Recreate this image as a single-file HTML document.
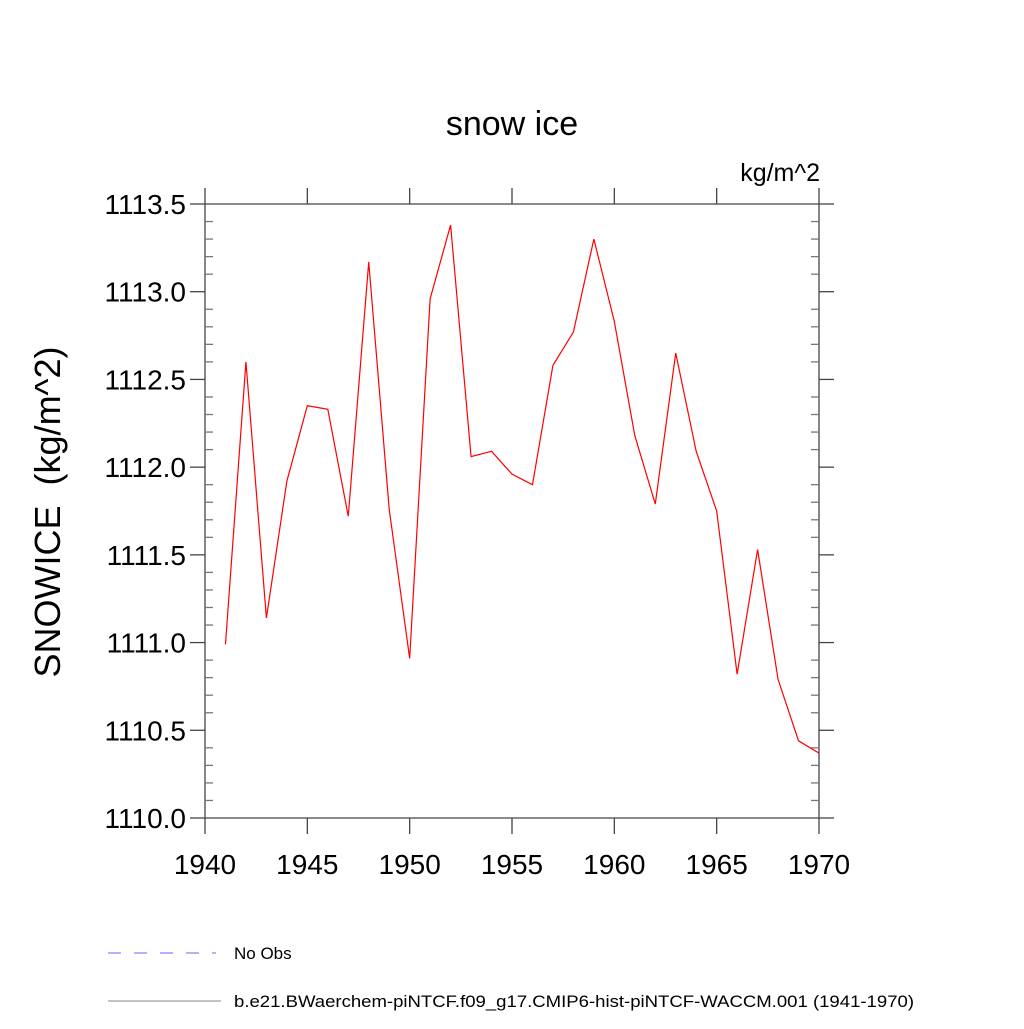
<!DOCTYPE html>
<html><head><meta charset="utf-8"><style>
body{margin:0;background:#fff}
svg text{font-family:"Liberation Sans",sans-serif;fill:#000}
</style></head><body>
<svg id="c" width="1024" height="1024" xmlns="http://www.w3.org/2000/svg">
<text x="512" y="135" font-size="34" text-anchor="middle">snow ice</text>
<text x="820" y="181" font-size="25" text-anchor="end">kg/m^2</text>
<text transform="translate(60,512) rotate(-90)" font-size="36" text-anchor="middle" xml:space="preserve" style="white-space:pre">SNOWICE  (kg/m^2)</text>
<g id="axes"></g>
<g id="series"></g>
<line x1="108" y1="953" x2="216" y2="953" stroke="#6666ff" stroke-dasharray="13,13"/>
<text x="234" y="959" font-size="17">No Obs</text>
<line x1="108" y1="1001" x2="221" y2="1001" stroke="#888"/>
<text x="234" y="1007" font-size="17" textLength="680" lengthAdjust="spacingAndGlyphs">b.e21.BWaerchem-piNTCF.f09_g17.CMIP6-hist-piNTCF-WACCM.001 (1941-1970)</text>
</svg>
<script>
const years=[1941,1942,1943,1944,1945,1946,1947,1948,1949,1950,1951,1952,1953,1954,1955,1956,1957,1958,1959,1960,1961,1962,1963,1964,1965,1966,1967,1968,1969,1970];
const values=[1110.99,1112.60,1111.14,1111.92,1112.35,1112.33,1111.72,1113.17,1111.76,1110.91,1112.96,1113.38,1112.06,1112.09,1111.96,1111.90,1112.58,1112.77,1113.30,1112.83,1112.18,1111.79,1112.65,1112.09,1111.75,1110.82,1111.53,1110.79,1110.44,1110.37];
const xTicks=[1940,1945,1950,1955,1960,1965,1970];
const yTicks=[1110.0,1110.5,1111.0,1111.5,1112.0,1112.5,1113.0,1113.5];
const L=205,R=819,T=204,B=818,X0=1940,X1=1970,Y0=1110,Y1=1113.5;
const xs=v=>L+(v-X0)/(X1-X0)*(R-L);
const ys=v=>B-(v-Y0)/(Y1-Y0)*(B-T);
const NS="http://www.w3.org/2000/svg";
const ax=document.getElementById('axes');
function ln(x1,y1,x2,y2,name,c){const e=document.createElementNS(NS,'line');
e.setAttribute('x1',x1);e.setAttribute('y1',y1);e.setAttribute('x2',x2);e.setAttribute('y2',y2);
e.setAttribute('stroke',c||'#444');e.setAttribute('stroke-width','1.3');


ax.appendChild(e);}
ln(L,T,R,T,'plot-frame-top');ln(L,B,R,B,'plot-frame-bottom');ln(L,T,L,B,'plot-frame-left');ln(R,T,R,B,'plot-frame-right');
xTicks.forEach(v=>{const x=xs(v);ln(x,B,x,B+16,'x-tick');ln(x,T,x,T-16,'x-tick-top');
const t=document.createElementNS(NS,'text');t.setAttribute('x',x);t.setAttribute('y',874);t.setAttribute('font-size','28');t.setAttribute('text-anchor','middle');t.textContent=v;


ax.appendChild(t);});
yTicks.forEach(v=>{const y=ys(v);ln(L-15,y,L,y,'y-tick');ln(R,y,R+15,y,'y-tick-right');
const t=document.createElementNS(NS,'text');t.setAttribute('x',186);t.setAttribute('y',y+10);t.setAttribute('font-size','28');t.setAttribute('text-anchor','end');t.textContent=v.toFixed(1);


ax.appendChild(t);});
for(let i=1;i<35;i++){if(i%5===0)continue;const y=ys(Y0+i*0.1);ln(L,y,L+8,y,'y-minor-tick','#777');ln(R-8,y,R,y,'y-minor-tick-right','#777');}
const p=document.createElementNS(NS,'polyline');
p.setAttribute('points',years.map((y,i)=>xs(y)+','+ys(values[i])).join(' '));
p.setAttribute('fill','none');p.setAttribute('stroke','#ff0000');p.setAttribute('stroke-width','1.2');


document.getElementById('series').appendChild(p);
</script>
</body></html>
